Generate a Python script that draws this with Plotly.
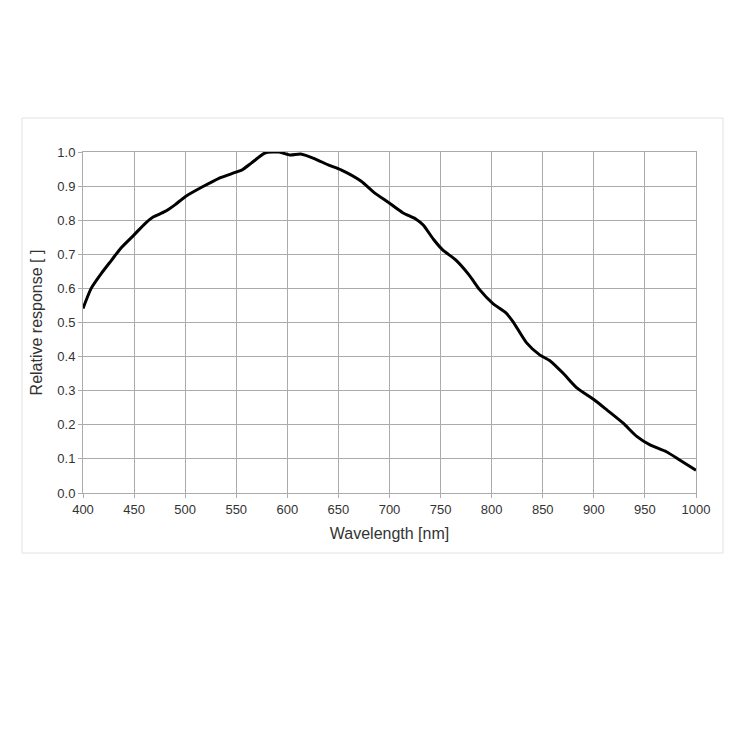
import plotly.graph_objects as go

wavelength = [400, 408, 418, 428, 437, 450, 461, 469, 480, 490, 500, 517, 533, 549, 556, 565, 578,
              592, 603, 613, 627, 640, 653, 672, 685, 700, 713, 726, 733, 743, 752, 765, 778, 788,
              801, 814, 821, 834, 847, 857, 870, 883, 900, 913, 929, 942, 955, 971, 984, 1000]
response = [0.541, 0.600, 0.644, 0.683, 0.718, 0.757, 0.791, 0.810, 0.825, 0.845, 0.869, 0.898, 0.923,
            0.940, 0.948, 0.968, 0.997, 1.0, 0.991, 0.994, 0.980, 0.962, 0.947, 0.915, 0.881, 0.850,
            0.822, 0.803, 0.786, 0.744, 0.713, 0.683, 0.639, 0.597, 0.556, 0.528, 0.502, 0.441,
            0.405, 0.388, 0.351, 0.309, 0.274, 0.243, 0.204, 0.166, 0.141, 0.121, 0.097, 0.067]

x_ticks = list(range(400, 1001, 50))
y_ticks = [i / 10 for i in range(11)]

fig = go.Figure()
fig.add_trace(go.Scatter(x=wavelength, y=response, mode="lines",
                         line=dict(color="black", width=3, shape="spline", smoothing=0.6),
                         showlegend=False, hoverinfo="skip"))

fig.update_layout(
    width=750, height=750,
    margin=dict(l=75, r=62, t=144, b=265, autoexpand=False),
    paper_bgcolor="white", plot_bgcolor="white",
    font=dict(family="Liberation Sans, Arial, sans-serif", size=13, color="#333333"),
    xaxis=dict(range=[400, 1000], tickvals=x_ticks, ticktext=[str(v) for v in x_ticks],
               showgrid=True, gridcolor="#ababab", gridwidth=1.2,
               showline=True, linecolor="#ababab", mirror=True,
               ticks="outside", ticklen=4, tickcolor="#ababab", automargin=False,
               title=dict(text="Wavelength [nm]", standoff=12), zeroline=False),
    yaxis=dict(range=[0, 1.0], tickvals=y_ticks, ticktext=[f"{v:.1f}" for v in y_ticks],
               showgrid=True, gridcolor="#ababab", gridwidth=1.2,
               showline=True, linecolor="#ababab", mirror=True,
               ticks="outside", ticklen=4, tickcolor="#ababab", automargin=False,
               title=dict(text="Relative response [ ]", standoff=10), zeroline=False),
    shapes=[dict(type="rect", xref="paper", yref="paper",
                 x0=-0.0995, x1=1.044, y0=-0.176, y1=1.0997,
                 line=dict(color="#e2e2e2", width=1), fillcolor="rgba(0,0,0,0)", layer="below")],
)

fig.write_html("out.html")
